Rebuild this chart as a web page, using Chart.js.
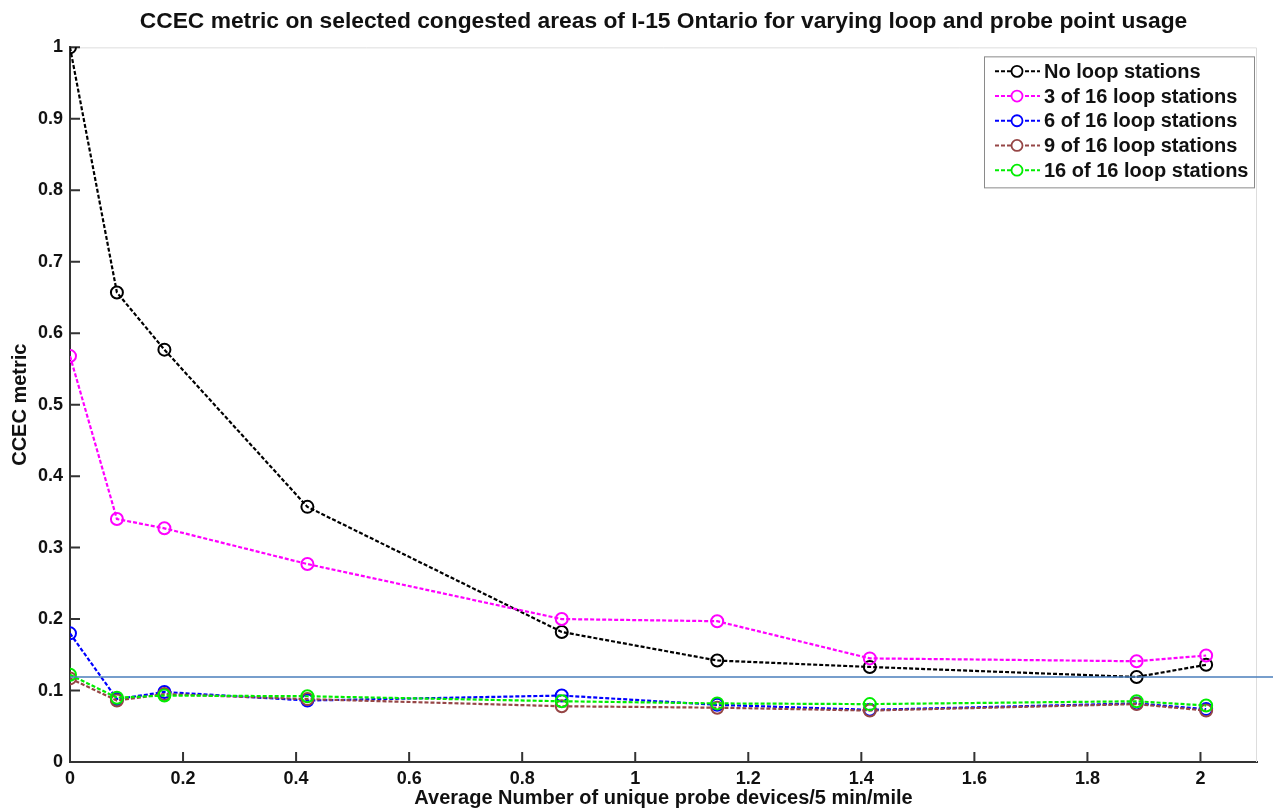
<!DOCTYPE html>
<html>
<head>
<title>CCEC metric - I-15 Ontario</title>
<style type="text/css">
  body { margin: 0; background: #fff; }
  #chart-container { width: 1273px; height: 810px; }
</style>
</head>
<body>
<div id="chart-container">
  <canvas id="mycanvas"></canvas>
</div>

<script type="text/javascript" src="https://cdn.jsdelivr.net/npm/chart.js@4.4.1/dist/chart.umd.min.js"></script>
<script>
// probe density (x) shared by all series
var probeDensity = [0, 0.083, 0.167, 0.42, 0.87, 1.145, 1.415, 1.887, 2.01];

var noLoop   = [1.0, 0.657, 0.577, 0.357, 0.182, 0.142, 0.133, 0.119, 0.136];
var loops3   = [0.568, 0.340, 0.327, 0.277, 0.200, 0.197, 0.145, 0.141, 0.149];
var loops6   = [0.180, 0.088, 0.098, 0.086, 0.093, 0.080, 0.073, 0.082, 0.074];
var loops9   = [0.117, 0.086, 0.095, 0.088, 0.078, 0.076, 0.072, 0.081, 0.072];
var loops16  = [0.122, 0.090, 0.093, 0.092, 0.085, 0.082, 0.081, 0.085, 0.079];

var seriesNames  = ['No loop stations', '3 of 16 loop stations', '6 of 16 loop stations', '9 of 16 loop stations', '16 of 16 loop stations'];
var seriesColors = ['#000000', '#ff00ff', '#0000ff', '#964646', '#00ee00'];

// reference level line
var refX = [0, 2.13];
var refY = [0.119, 0.119];

var xTicks = [0, 0.2, 0.4, 0.6, 0.8, 1, 1.2, 1.4, 1.6, 1.8, 2];
var yTicks = [0, 0.1, 0.2, 0.3, 0.4, 0.5, 0.6, 0.7, 0.8, 0.9, 1];

var FONT = "'Liberation Sans', Arial, sans-serif";

function pts(ys) {
  var out = [];
  for (var i = 0; i < ys.length; i++) out.push({x: probeDensity[i], y: ys[i]});
  return out;
}

var allSeries = [noLoop, loops3, loops6, loops9, loops16];
var datasets = [];
for (var i = 0; i < allSeries.length; i++) {
  datasets.push({
    label: seriesNames[i],
    data: pts(allSeries[i]),
    borderColor: seriesColors[i],
    borderWidth: 2.2,
    borderDash: [4, 2],
    pointStyle: 'circle',
    pointRadius: 6,
    pointBorderWidth: 2,
    pointBorderColor: seriesColors[i],
    pointBackgroundColor: 'rgba(0,0,0,0)',
    fill: false,
    tension: 0,
    order: allSeries.length - i
  });
}
datasets.push({
  label: 'ref',
  data: [{x: refX[0], y: refY[0]}, {x: refX[1], y: refY[1]}],
  borderColor: '#4a7ebb',
  borderWidth: 1.6,
  pointRadius: 0,
  fill: false,
  clip: false,
  order: 0
});

// inward tick marks, light box edge and the legend
var framePlugin = {
  id: 'frame',
  beforeDatasetsDraw: function(chart) {
    var ctx = chart.ctx, a = chart.chartArea;
    var xs = chart.scales.x, ys = chart.scales.y;
    ctx.save();
    ctx.strokeStyle = '#dddddd';
    ctx.lineWidth = 1;
    ctx.beginPath();
    ctx.moveTo(a.left, a.top + 0.5);
    ctx.lineTo(a.right - 0.5, a.top + 0.5);
    ctx.lineTo(a.right - 0.5, a.bottom);
    ctx.stroke();

    ctx.strokeStyle = '#333333';
    ctx.lineWidth = 2;
    ctx.beginPath();
    xTicks.forEach(function(v) {
      var px = xs.getPixelForValue(v);
      ctx.moveTo(px, a.bottom);
      ctx.lineTo(px, a.bottom - 10);
    });
    yTicks.forEach(function(v) {
      var py = ys.getPixelForValue(v);
      ctx.moveTo(a.left, py);
      ctx.lineTo(a.left + 10, py);
    });
    ctx.stroke();
    ctx.restore();
  },
  afterDraw: function(chart) {
    var ctx = chart.ctx, a = chart.chartArea;
    var w = 270, h = 131;
    var bx = a.right - 3 - w, by = a.top + 9;
    ctx.save();
    ctx.fillStyle = '#ffffff';
    ctx.fillRect(bx, by, w, h);
    ctx.strokeStyle = '#8a8a8a';
    ctx.lineWidth = 1;
    ctx.strokeRect(bx + 0.5, by + 0.5, w, h);
    ctx.font = 'bold 20px ' + FONT;
    ctx.textBaseline = 'middle';
    ctx.textAlign = 'left';
    for (var i = 0; i < seriesNames.length; i++) {
      var cy = by + 15 + i * 24.7;
      ctx.strokeStyle = seriesColors[i];
      ctx.lineWidth = 2;
      ctx.setLineDash([4, 2]);
      ctx.beginPath();
      ctx.moveTo(bx + 11, cy);
      ctx.lineTo(bx + 56, cy);
      ctx.stroke();
      ctx.setLineDash([]);
      ctx.lineWidth = 1.8;
      ctx.fillStyle = '#ffffff';
      ctx.beginPath();
      ctx.arc(bx + 33, cy, 5.5, 0, Math.PI * 2);
      ctx.fill();
      ctx.stroke();
      ctx.fillStyle = '#111111';
      ctx.fillText(seriesNames[i], bx + 60, cy + 1);
    }
    ctx.restore();
  }
};

var ctx = document.getElementById('mycanvas');
var chart = new Chart(ctx, {
  type: 'line',
  data: { datasets: datasets },
  options: {
    responsive: true,
    maintainAspectRatio: false,
    animation: false,
    layout: { padding: { left: 0, right: 16, top: 0, bottom: 0 } },
    plugins: {
      legend: { display: false },
      tooltip: { enabled: false },
      title: {
        display: true,
        fullSize: false,
        text: 'CCEC metric on selected congested areas of I-15 Ontario for varying loop and probe point usage',
        color: '#111',
        font: { family: FONT, size: 22.8, weight: 'bold' },
        padding: { top: 8, bottom: 12 }
      }
    },
    scales: {
      x: {
        type: 'linear',
        min: 0,
        max: 2.1,
        afterBuildTicks: function(s) { s.ticks = xTicks.map(function(v) { return {value: v}; }); },
        afterFit: function(s) { s.height = 48; },
        grid: { display: true, drawOnChartArea: false, drawTicks: false },
        border: { display: true, color: '#333', width: 2 },
        ticks: {
          autoSkip: false, maxRotation: 0, padding: 6, color: '#111',
          font: { family: FONT, size: 18, weight: 'bold' },
          callback: function(v) { return String(v); }
        },
        title: {
          display: true,
          text: 'Average Number of unique probe devices/5 min/mile',
          color: '#111',
          font: { family: FONT, size: 20, weight: 'bold' },
          padding: { top: 0, bottom: 0 }
        }
      },
      y: {
        min: 0,
        max: 1,
        afterBuildTicks: function(s) { s.ticks = yTicks.map(function(v) { return {value: v}; }); },
        afterFit: function(s) { s.width = 70; },
        grid: { display: true, drawOnChartArea: false, drawTicks: false },
        border: { display: true, color: '#333', width: 2 },
        ticks: {
          autoSkip: false, padding: 7, color: '#111',
          font: { family: FONT, size: 18, weight: 'bold' },
          callback: function(v) { return String(v); }
        },
        title: {
          display: true,
          text: 'CCEC metric',
          color: '#111',
          font: { family: FONT, size: 20, weight: 'bold' },
          padding: { top: 8, bottom: 0 }
        }
      }
    }
  },
  plugins: [framePlugin]
});
</script>
</body>
</html>
